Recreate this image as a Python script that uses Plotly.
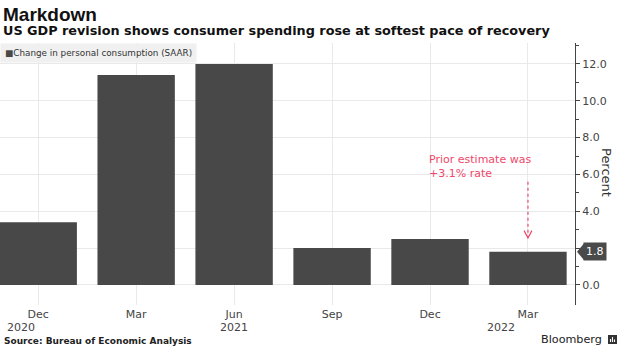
import plotly.graph_objects as go

months = ["Dec", "Mar", "Jun", "Sep", "Dec", "Mar"]
years = ["2020", "", "2021", "", "", "2022"]
values = [3.4, 11.4, 12.0, 2.0, 2.5, 1.8]
series_name = "Change in personal consumption (SAAR)"
y_ticks = [0, 2, 4, 6, 8, 10, 12]

BAR = "#484848"
PINK = "#f0476a"
FONT = "DejaVu Sans"

W, H = 620, 348
ML, MR, MT, MB = 0, 45, 43, 43
PW, PH = W - ML - MR, H - MT - MB


def px(x):
    return (x - ML) / PW


def py(y):
    return (H - MB - y) / PH


xs = list(range(len(values)))

fig = go.Figure()
fig.add_trace(go.Bar(x=xs, y=values, marker=dict(color=BAR, line=dict(width=0)),
                     width=0.79, showlegend=False, hoverinfo="skip"))

fig.update_layout(
    width=W, height=H,
    margin=dict(l=ML, r=MR, t=MT, b=MB),
    paper_bgcolor="white", plot_bgcolor="white",
    font=dict(family=FONT, color="#333333", size=11),
)
fig.update_xaxes(
    range=[-0.39, 5.48], tickmode="array", tickvals=xs, ticktext=months,
    showgrid=True, gridcolor="#e9e9e9", gridwidth=1, zeroline=False,
    ticks="", showline=False, tickfont=dict(size=11, color="#444444"),
    ticklabelstandoff=1,
)
fig.update_yaxes(
    side="right", range=[-1.09, 13.14], tickvals=y_ticks, tickformat=".1f",
    showgrid=True, gridcolor="#e9e9e9", zeroline=False,
    showline=True, linecolor="#444444", linewidth=1,
    ticks="outside", ticklen=4, tickcolor="#444444",
    minor=dict(tickvals=[1, 3, 5, 7, 9, 11, 13], ticks="outside", ticklen=3,
               tickcolor="#444444", showgrid=False),
    tickfont=dict(size=11, color="#444444"),
)

# year labels
year_x = {"2020": -0.176, "2021": 2.0, "2022": 4.72}
for yr in years:
    if yr:
        fig.add_annotation(x=year_x[yr], y=py(327), xref="x", yref="paper",
                           text=yr, showarrow=False, xanchor="center", yanchor="middle",
                           font=dict(size=11, color="#444444"))

# title & subtitle
fig.add_annotation(x=px(1), y=py(14), xref="paper", yref="paper",
                   text="<b>Markdown</b>", showarrow=False, xanchor="left", yanchor="middle",
                   font=dict(size=19, color="#111111", family="Liberation Sans"))
fig.add_annotation(x=px(1), y=py(31), xref="paper", yref="paper",
                   text="<b>US GDP revision shows consumer spending rose at softest pace of recovery</b>",
                   showarrow=False, xanchor="left", yanchor="middle",
                   font=dict(size=12.8, color="#111111", family=FONT))
# source
fig.add_annotation(x=px(2), y=py(341), xref="paper", yref="paper",
                   text="<b>Source: Bureau of Economic Analysis</b>",
                   showarrow=False, xanchor="left", yanchor="middle",
                   font=dict(size=9, color="#222222", family=FONT))
fig.add_annotation(x=px(604), y=py(339), xref="paper", yref="paper",
                   text="Bloomberg", xanchor="right", yanchor="middle", showarrow=False,
                   font=dict(size=11.2, color="#222222", family=FONT))
# logo square
fig.add_shape(type="rect", xref="paper", yref="paper",
              x0=px(608), x1=px(617), y0=py(344), y1=py(335),
              fillcolor="#333333", line=dict(width=0))
for bx, bh in [(610.5, 3), (612.5, 5), (614.5, 2.5)]:
    fig.add_shape(type="line", xref="paper", yref="paper",
                  x0=px(bx), x1=px(bx), y0=py(342), y1=py(342 - bh),
                  line=dict(color="white", width=1.1))

# legend box
fig.add_annotation(x=0, y=1, xref="paper", yref="paper", xanchor="left", yanchor="top",
                   text=f"<span style='color:{BAR}'>■</span>{series_name}", showarrow=False,
                   bgcolor="#f0f0f0", borderpad=4, font=dict(size=8.8, color="#333333", family=FONT))

# "Percent" axis title
fig.add_annotation(x=px(607), y=py(172), xref="paper", yref="paper",
                   text="Percent", textangle=90, showarrow=False,
                   xanchor="center", yanchor="middle",
                   font=dict(size=13, color="#333333", family=FONT))

# last value tag
last = values[-1]
fig.add_annotation(x=1, y=last, xref="paper", yref="y", xanchor="left", xshift=8,
                   text=f"{last:.1f}", showarrow=False, bgcolor="#4a4a4a", borderpad=2,
                   font=dict(size=11, color="white", family=FONT))
fig.add_shape(type="path", xref="paper", yref="y",
              path=f"M {px(577)},{last} L {px(584)},{last+0.45} L {px(584)},{last-0.45} Z",
              fillcolor="#4a4a4a", line=dict(width=0))

# prior estimate note
fig.add_annotation(x=3.965, y=5.57, xref="x", yref="y", xanchor="left", yanchor="bottom",
                   text="Prior estimate was<br>+3.1% rate", align="left", showarrow=False,
                   font=dict(size=11, color=PINK, family=FONT))
lx = xs[-1]
fig.add_shape(type="line", xref="x", yref="y", x0=lx, x1=lx, y0=5.6, y1=2.6,
              line=dict(color=PINK, width=1.2, dash="dot"))
fig.add_shape(type="path", xref="x", yref="y",
              path=f"M {lx-0.04},2.95 L {lx},2.55 L {lx+0.04},2.95",
              line=dict(color=PINK, width=1.2))

fig.write_html("out.html")
